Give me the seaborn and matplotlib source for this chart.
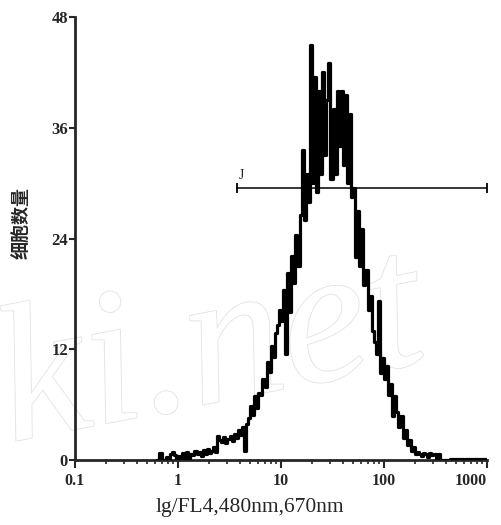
import matplotlib
matplotlib.use('Agg')
import matplotlib.pyplot as plt
import matplotlib.patheffects as pe
from matplotlib.ticker import LogLocator, FixedLocator, NullFormatter
import numpy as np
import pandas as pd
import seaborn as sns

# histogram channels: log10 of left bin edge starts at -0.20, width 0.02 decade
log_start = -0.20
log_step = 0.02
counts = [0, 0.8, 0, 0, 0.3, 0, 0.7, 0.9, 0.5, 0,
          0.4, 0, 0.8, 0, 0.9, 0, 0.7, 0.5, 1.0, 0.6,
          0.9, 0.4, 1.1, 0.7, 1.2, 0.8, 1.0, 1.4, 0.9, 2.6,
          2.2, 2.0, 2.5, 1.8, 2.3, 2.6, 2.1, 2.8, 2.4, 3.2,
          2.7, 3.6, 1.0, 3.9, 4.6, 5.8, 4.9, 6.9, 5.6, 7.3,
          7.0, 8.8, 7.9, 10.6, 9.5, 12.3, 11.2, 13.8, 14.6, 16.2,
          15.1, 18.4, 11.5, 20.3, 16.0, 22.1, 19.2, 24.4, 21.0, 26.5,
          33.6, 26.0, 31.0, 28.0, 45.0, 30.0, 41.5, 29.0, 40.0, 31.0,
          42.0, 33.0, 39.0, 43.0, 30.5, 38.0, 31.0, 40.0, 34.0, 40.0,
          32.0, 39.5, 30.0, 37.5, 28.5, 29.5, 22.0, 27.0, 21.0, 25.0,
          19.0, 20.6, 16.2, 17.8, 14.0, 12.8, 11.5, 17.2, 9.4, 11.0,
          8.8, 10.2, 7.0, 8.2, 4.8, 6.9, 5.2, 3.6, 4.8, 2.4,
          3.3, 1.6, 2.2, 1.0, 1.4, 0.6, 0.9, 0.7, 0.4, 0.8,
          0.6, 0.3, 0.8, 0.5, 0.7, 0.2, 0.6, 0, 0, 0,
          0, 0, 0.15, 0.15, 0.15, 0.15, 0.15, 0.15, 0.15, 0.15,
          0.15, 0.15, 0.15, 0.15, 0.15, 0.15, 0.15, 0.15, 0.15, 0.15]

# marker gate
gate_range = [3.7, 1000]
gate_level = 29.5
gate_label = 'J'

x_ticks = [0.1, 1, 10, 100, 1000]
x_ticklabels = ['0.1', '1', '10', '100', '1000']
y_ticks = [0, 12, 24, 36, 48]
x_label = 'lg/FL4,480nm,670nm'
y_label = '细胞数量'

edges = 10 ** (log_start + log_step * np.arange(len(counts) + 1))
df = pd.DataFrame({'fl4': edges, 'cells': counts + [counts[-1]]})

sns.set_style('ticks')
plt.rcParams['font.family'] = ['Liberation Serif', 'Noto Sans CJK SC', 'DejaVu Sans']

fig = plt.figure(figsize=(5.01, 5.25), dpi=100)
ax = fig.add_axes([0.1497, 0.1238, 0.8224, 0.8438])
ax.patch.set_alpha(0)

# faint watermark behind the data
ax.text(-0.03, 0.16, 'ki.net', fontsize=140, style='italic', family='Liberation Serif',
        rotation=11, color='white', zorder=0.1, transform=fig.transFigure, clip_on=False,
        path_effects=[pe.withStroke(linewidth=1.3, foreground='#e4e4e4')])

sns.lineplot(data=df, x='fl4', y='cells', ax=ax, drawstyle='steps-post',
             color='black', linewidth=2.3, estimator=None, sort=False, zorder=3)

ax.plot(gate_range, [gate_level, gate_level], color='black', linewidth=1.1,
        marker='|', markersize=7, markeredgewidth=1.3, zorder=4)
ax.text(gate_range[0] * 1.05, gate_level + 0.6, gate_label, fontsize=10,
        ha='left', va='bottom')

ax.set_xscale('log')
ax.set_xlim(0.1, 1000)
ax.set_ylim(0, 48)
ax.xaxis.set_major_locator(FixedLocator(x_ticks))
ax.set_xticklabels(x_ticklabels)
ax.xaxis.set_minor_locator(LogLocator(base=10, subs=np.arange(2, 10)))
ax.xaxis.set_minor_formatter(NullFormatter())
ax.set_yticks(y_ticks)

sns.despine(ax=ax)
for s in ['left', 'bottom']:
    ax.spines[s].set_linewidth(2.0)
ax.tick_params(axis='x', which='major', length=6, width=1.5, labelsize=11.5, pad=3)
ax.tick_params(axis='x', which='minor', length=3, width=1.2)
ax.tick_params(axis='y', length=4, width=1.5, labelsize=12, pad=1)
for lab in ax.get_xticklabels() + ax.get_yticklabels():
    lab.set_fontweight('bold')
# last x label sits a little left of its tick so it stays on the canvas
ax.get_xticklabels()[-1].set_horizontalalignment('right')

ax.set_xlabel(x_label, fontsize=15.5)
ax.xaxis.set_label_coords(0.425, -0.085)
ax.set_ylabel(y_label, fontsize=13, family=['Noto Sans CJK SC', 'DejaVu Sans'],
              fontweight='bold')
ax.yaxis.set_label_coords(-0.105, 0.535)

fig.savefig('out.png', dpi=100)
